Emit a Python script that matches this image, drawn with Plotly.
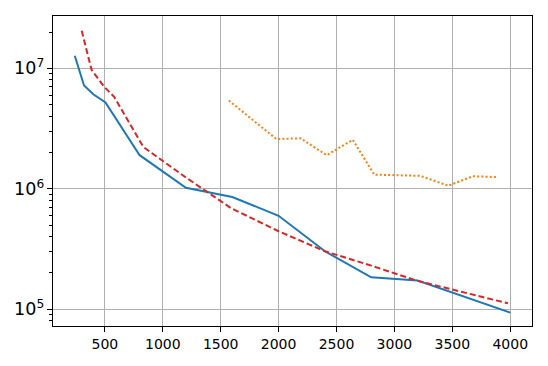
import plotly.graph_objects as go

# Data
blue_x = [240, 320, 400, 505, 800, 1200, 1600, 2000, 2400, 2800, 3200, 4000]
blue_y = [1.27e7, 7.2e6, 6.08e6, 5.2e6, 1.9e6, 1.02e6, 8.55e5, 5.97e5, 3.03e5, 1.84e5, 1.73e5, 9.37e4]

red_x = [300, 385, 495, 580, 832, 1200, 1590, 2000, 2400, 2800, 3200, 3980]
red_y = [2.05e7, 9.7e6, 7.0e6, 5.8e6, 2.22e6, 1.24e6, 6.9e5, 4.44e5, 3.03e5, 2.3e5, 1.72e5, 1.12e5]

orange_x = [1570, 1980, 2190, 2415, 2640, 2826, 3223, 3465, 3676, 3890]
orange_y = [5.4e6, 2.59e6, 2.62e6, 1.9e6, 2.55e6, 1.31e6, 1.28e6, 1.06e6, 1.27e6, 1.25e6]

x_ticks = [500, 1000, 1500, 2000, 2500, 3000, 3500, 4000]

fig = go.Figure()
fig.add_trace(go.Scatter(x=blue_x, y=blue_y, mode="lines",
                         line=dict(color="#1f77b4", width=2)))
fig.add_trace(go.Scatter(x=orange_x, y=orange_y, mode="lines",
                         line=dict(color="#ff7f0e", width=2, dash="2px,2.2px")))
fig.add_trace(go.Scatter(x=red_x, y=red_y, mode="lines",
                         line=dict(color="#d62728", width=2, dash="6px,3px")))

font = dict(family="DejaVu Sans", size=14, color="black")
# The page body has an 8px default margin, so the figure is sized/offset to compensate.
fig.update_layout(
    width=540, height=358,
    margin=dict(l=45, r=16, t=8, b=40, autoexpand=False),
    paper_bgcolor="white", plot_bgcolor="white",
    showlegend=False,
    font=font,
)
fig.update_xaxes(
    range=[52, 4188], automargin=False,
    tickvals=x_ticks,
    ticks="outside", ticklen=5, tickwidth=1, tickcolor="black",
    showgrid=True, gridcolor="#b0b0b0", gridwidth=1,
    showline=True, linecolor="black", linewidth=1, mirror=True,
    zeroline=False, tickfont=font,
)
fig.update_yaxes(
    type="log", automargin=False,
    range=[4.861, 7.434],
    dtick=1, exponentformat="power",
    ticks="outside", ticklen=5, tickwidth=1, tickcolor="black",
    showgrid=True, gridcolor="#b0b0b0", gridwidth=1,
    showline=True, linecolor="black", linewidth=1, mirror=True,
    zeroline=False, tickfont=font,
    minor=dict(ticks="outside", ticklen=3, tickwidth=0.8, tickcolor="black",
               dtick="D1", showgrid=False),
)

fig.write_html("out.html")
